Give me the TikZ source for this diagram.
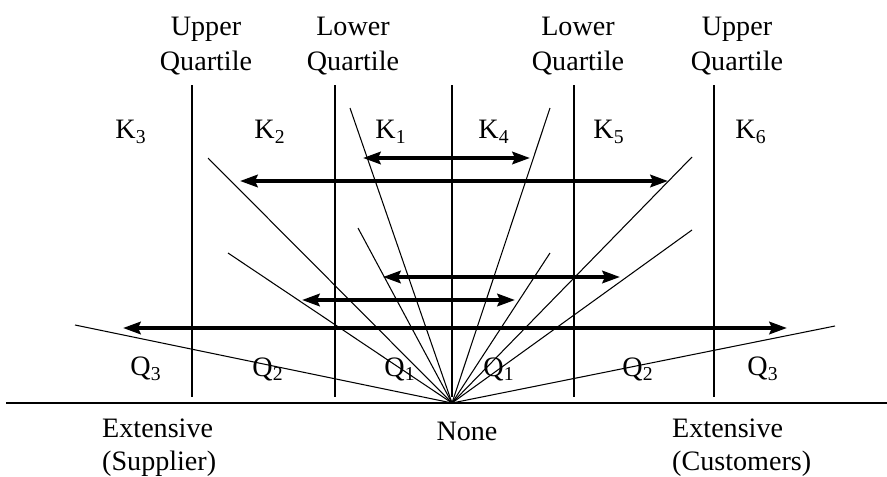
\documentclass[tikz,border=0pt]{standalone}
\usepackage{fontspec}
\setmainfont{Liberation Serif}
\usetikzlibrary{arrows.meta}

\begin{document}
\begin{tikzpicture}[x=0.02cm,y=-0.02cm,
  ray/.style={line width=0.6pt},
  span/.style={line width=2.2pt,{Stealth[length=10pt,width=7pt,inset=1.5pt]}-{Stealth[length=10pt,width=7pt,inset=1.5pt]}},
  every node/.style={font=\fontsize{16}{20}\selectfont}]
\useasboundingbox (0,0) rectangle (887,477);
\coordinate (O) at (452,403);
\draw[line width=1pt] (6,403) -- (887,403);
\foreach \x in {192,335,452,574,714} \draw[ray] (\x,85) -- (\x,397);
\foreach \x/\y in {75/325,228/253,208/158,350/108,358/228,835/326,692/230,692/157,550/108,550/253}
  \draw[ray] (O) -- (\x,\y);
\foreach \a/\b/\y in {363/530/158,240/668/181,383/620/277,302/515/300,123/787/328}
  \draw[span] (\a,\y) -- (\b,\y);
\node[align=center] (uql) at (206,46) {Upper\\Quartile};
\node[align=center] (lql) at (353,46) {Lower\\Quartile};
\node[align=center] (lqr) at (578,46) {Lower\\Quartile};
\node[align=center] (uqr) at (737,46) {Upper\\Quartile};
\foreach \x/\k in {131/3,270/2,391/1,494/4,609/5,751/6}
  \node (k\k) at (\x,132) {K\textsubscript{\k}};
\foreach \x/\q/\n in {146/3/l3,268/2/l2,400/1/l1,499/1/r1,638/2/r2,763/3/r3}
  \node (q\n) at (\x,369) {Q\textsubscript{\q}};
\node[align=left,anchor=north west,font=\fontsize{16}{18.7}\selectfont] (sup) at (96,413) {Extensive\\(Supplier)};
\node (none) at (467,431) {None};
\node[align=left,anchor=north west,font=\fontsize{16}{18.7}\selectfont] (cus) at (666,413) {Extensive\\(Customers)};
\end{tikzpicture}
\end{document}
